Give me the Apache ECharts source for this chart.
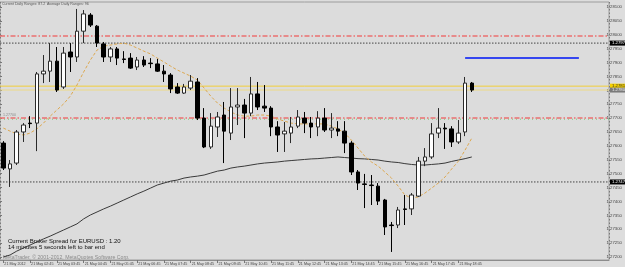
<!DOCTYPE html>
<html>
<head>
<meta charset="utf-8">
<script src="https://cdn.jsdelivr.net/npm/echarts@6/dist/echarts.min.js"></script>
<style>html,body{margin:0;padding:0;background:#dcdcdc;}#c{width:625px;height:267px;}</style>
</head>
<body>
<div id="c"></div>
<script>
// ---- data (EURUSD M15, 21 May 2012) ----
const tickLabels = ["21 May 2012","21 May 02:45","21 May 03:45","21 May 04:45","21 May 05:45","21 May 06:45","21 May 07:45","21 May 08:45","21 May 09:45","21 May 10:45","21 May 11:45","21 May 12:45","21 May 13:45","21 May 14:45","21 May 15:45","21 May 16:45","21 May 17:45","21 May 18:45"];
const totalSlots = 91; // 71 bars + chart shift space
const opens = [1.27610,1.27517,1.27538,1.27650,1.27682,1.27682,1.27859,1.27869,1.27905,1.27812,1.27938,1.27920,1.28013,1.28071,1.28031,1.27967,1.27920,1.27949,1.27913,1.27916,1.27884,1.27909,1.27898,1.27895,1.27869,1.27855,1.27812,1.27790,1.27808,1.27830,1.27700,1.27596,1.27668,1.27711,1.27646,1.27740,1.27747,1.27718,1.27787,1.27743,1.27736,1.27668,1.27643,1.27646,1.27671,1.27700,1.27682,1.27668,1.27700,1.27657,1.27661,1.27653,1.27610,1.27506,1.27463,1.27459,1.27455,1.27405,1.27315,1.27315,1.27373,1.27373,1.27419,1.27545,1.27560,1.27646,1.27664,1.27661,1.27614,1.27650,1.27826];
const closes = [1.27520,1.27535,1.27650,1.27675,1.27680,1.27859,1.27869,1.27905,1.27801,1.27934,1.27920,1.28013,1.28075,1.28035,1.27970,1.27920,1.27949,1.27916,1.27911,1.27880,1.27909,1.27891,1.27896,1.27869,1.27859,1.27805,1.27790,1.27812,1.27833,1.27700,1.27596,1.27671,1.27704,1.27653,1.27740,1.27747,1.27718,1.27787,1.27740,1.27736,1.27668,1.27639,1.27653,1.27668,1.27704,1.27682,1.27668,1.27700,1.27657,1.27664,1.27653,1.27610,1.27506,1.27466,1.27461,1.27457,1.27401,1.27308,1.27313,1.27369,1.27371,1.27423,1.27545,1.27560,1.27643,1.27664,1.27661,1.27614,1.27646,1.27826,1.27801];
const lows = [1.27513,1.27452,1.27531,1.27614,1.27664,1.27581,1.27826,1.27830,1.27794,1.27805,1.27866,1.27902,1.27970,1.28028,1.27956,1.27902,1.27902,1.27891,1.27898,1.27877,1.27873,1.27884,1.27880,1.27866,1.27830,1.27790,1.27787,1.27787,1.27801,1.27693,1.27592,1.27589,1.27632,1.27538,1.27621,1.27675,1.27628,1.27707,1.27729,1.27722,1.27635,1.27578,1.27578,1.27610,1.27664,1.27646,1.27628,1.27635,1.27650,1.27628,1.27635,1.27574,1.27495,1.27441,1.27376,1.27387,1.27387,1.27279,1.27218,1.27304,1.27315,1.27351,1.27416,1.27527,1.27553,1.27628,1.27589,1.27596,1.27607,1.27635,1.27794];
const highs = [1.27617,1.27549,1.27657,1.27682,1.27707,1.27866,1.27927,1.27970,1.27956,1.27956,1.27970,1.28093,1.28089,1.28078,1.28035,1.27974,1.27956,1.27956,1.27941,1.27934,1.27920,1.27923,1.27916,1.27913,1.27891,1.27862,1.27826,1.27823,1.27855,1.27844,1.27736,1.27718,1.27722,1.27758,1.27808,1.27808,1.27769,1.27848,1.27830,1.27819,1.27743,1.27689,1.27686,1.27704,1.27729,1.27722,1.27704,1.27725,1.27736,1.27718,1.27689,1.27689,1.27617,1.27513,1.27499,1.27495,1.27466,1.27409,1.27326,1.27380,1.27423,1.27430,1.27560,1.27592,1.27682,1.27736,1.27682,1.27671,1.27693,1.27848,1.27830];
const maFast = [1.27664,1.27653,1.27643,1.27639,1.27646,1.27661,1.27682,1.27707,1.27729,1.27751,1.27779,1.27819,1.27866,1.27909,1.27945,1.27959,1.27963,1.27967,1.27970,1.27963,1.27952,1.27941,1.27931,1.27916,1.27902,1.27887,1.27873,1.27862,1.27851,1.27837,1.27808,1.27779,1.27754,1.27736,1.27722,1.27711,1.27707,1.27707,1.27711,1.27711,1.27707,1.27697,1.27689,1.27682,1.27679,1.27679,1.27679,1.27679,1.27679,1.27671,1.27661,1.27646,1.27621,1.27592,1.27563,1.27542,1.27527,1.27506,1.27484,1.27455,1.27423,1.27412,1.27416,1.27430,1.27448,1.27466,1.27488,1.27517,1.27545,1.27585,1.27628];
const maSlow = [1.27200,1.27207,1.27221,1.27232,1.27243,1.27254,1.27265,1.27275,1.27286,1.27297,1.27308,1.27319,1.27337,1.27351,1.27362,1.27373,1.27383,1.27394,1.27405,1.27416,1.27427,1.27437,1.27448,1.27459,1.27466,1.27473,1.27477,1.27484,1.27488,1.27491,1.27495,1.27502,1.27509,1.27513,1.27520,1.27524,1.27527,1.27531,1.27535,1.27538,1.27540,1.27542,1.27545,1.27547,1.27549,1.27551,1.27553,1.27554,1.27556,1.27558,1.27560,1.27558,1.27556,1.27554,1.27553,1.27551,1.27549,1.27545,1.27542,1.27540,1.27536,1.27533,1.27531,1.27531,1.27533,1.27535,1.27538,1.27544,1.27549,1.27554,1.27560];
const redLevels = [1.27996, 1.27700];
const greenLevel = 1.27696;
const blackLevels = [1.27970, 1.27470];
const yellowLevel = 1.27815;
const bidLevel = 1.27801;
const blueLevel = 1.27916, blueStart = 69, blueEnd = 86;
const shiftBoundary = 90; // chart-shift separator sits at the start of this slot
const axisMin = 1.27189, axisMax = 1.28118;
const labelMin = 1.2720, labelMax = 1.2810, labelStep = 0.0005;

// ---- build ----
const categories = [];
for (let i = 0; i < totalSlots; i++) categories.push('b' + i);
const candles = opens.map((o, i) => [o, closes[i], lows[i], highs[i]]);
const FONT = 'Liberation Sans';
const tickShow = i => i % 4 === 0 && i / 4 < tickLabels.length;
const fmt5 = v => Number(v).toFixed(5);

const chart = echarts.init(document.getElementById('c'), null, {renderer: 'canvas'});
// full-width horizontal level drawn on a hidden 0..1 x axis of the main grid
const hLine = (val, color, type, width, bg, fg) => ({
  type: 'line', xAxisIndex: 2, yAxisIndex: 0, symbol: 'none', silent: true, z: 1,
  data: [[0, val], [1, val]],
  lineStyle: {color: color, width: width, type: type},
  endLabel: bg ? {show: true, distance: 1, formatter: () => fmt5(val), backgroundColor: bg, color: fg,
    fontSize: 4.3, fontFamily: FONT, padding: [1, 3, 0, 2]} : {show: false}
});

chart.setOption({
  animation: false,
  backgroundColor: '#dddddd',
  grid: [
    {left: 0, right: 16, top: 2, height: 258, show: true, backgroundColor: '#dcdcdc', borderColor: '#9c9c9c', borderWidth: 1},
    {left: 0, right: 16, top: 7, height: 250, show: false}
  ],
  xAxis: [
    {type: 'category', gridIndex: 0, data: categories, boundaryGap: true,
     axisLine: {show: true, lineStyle: {color: '#8c8c8c'}},
     axisTick: {show: true, interval: tickShow, alignWithLabel: true, length: 3, lineStyle: {color: '#777'}},
     axisLabel: {show: true, interval: tickShow, formatter: (v, i) => tickLabels[i / 4] || '', align: 'left',
       fontSize: 3.7, fontFamily: FONT, color: '#444', margin: 2, padding: [0, 0, 0, 1]},
     splitLine: {show: true, interval: i => i === shiftBoundary, lineStyle: {color: '#7a7a7a', width: 1, type: [1.5, 2]}}},
    {type: 'value', gridIndex: 1, min: 0, max: 1, show: false},
    {type: 'value', gridIndex: 0, min: 0, max: 1, show: false}
  ],
  yAxis: [
    {type: 'value', gridIndex: 0, min: axisMin, max: axisMax, position: 'right', show: true,
     axisLine: {show: false}, axisTick: {show: false}, axisLabel: {show: false}, splitLine: {show: false}},
    {type: 'value', gridIndex: 1, min: labelMin, max: labelMax, interval: labelStep, position: 'right',
     axisLine: {show: false}, axisTick: {show: true, length: 2, inside: false, lineStyle: {color: '#777'}},
     axisLabel: {show: true, formatter: v => v.toFixed(5), fontSize: 4.3, fontFamily: FONT, color: '#444', margin: 4,
       showMinLabel: true, showMaxLabel: true},
     splitLine: {show: false}}
  ],
  series: [
    hLine(redLevels[0], '#ea7070', [5, 2, 1.5, 2], 1.5),
    hLine(greenLevel, '#7acc7a', [1, 3], 1),
    hLine(redLevels[1], '#ea7070', [5, 2, 1.5, 2], 1.5),
    hLine(blackLevels[0], '#444', [1.5, 1.5], 1, '#000', '#fff'),
    hLine(blackLevels[1], '#444', [1.5, 1.5], 1, '#000', '#fff'),
    hLine(yellowLevel, '#f2cf3a', 'solid', 1, '#f5d000', '#333'),
    hLine(bidLevel, '#ecd987', 'solid', 1, '#7a7a7a', '#eee'),
    {type: 'line', xAxisIndex: 0, yAxisIndex: 0, data: maSlow, symbol: 'none', silent: true,
     lineStyle: {color: '#3a3a3a', width: 1}, z: 2},
    {type: 'line', xAxisIndex: 0, yAxisIndex: 0, data: maFast, symbol: 'none', silent: true,
     lineStyle: {color: '#dca850', width: 1, type: [3, 2]}, z: 2},
    {type: 'candlestick', xAxisIndex: 0, yAxisIndex: 0, data: candles, barWidth: 4, z: 3,
     itemStyle: {color: '#ffffff', color0: '#000000', borderColor: '#2a2a2a', borderColor0: '#000000', borderWidth: 1}},
    {type: 'line', xAxisIndex: 0, yAxisIndex: 0, data: [[blueStart, blueLevel], [blueEnd, blueLevel]], symbol: 'none',
     silent: true, lineStyle: {color: '#3546f0', width: 2}, z: 4},
    {type: 'line', xAxisIndex: 1, yAxisIndex: 1, data: [], symbol: 'none'}
  ],
  graphic: [
    {type: 'text', left: 2, top: 1.5, silent: true, style: {text: 'Current Daily Ranges: 87.2', fontSize: 3.6, fontFamily: FONT, fill: '#555'}},
    {type: 'text', left: 47, top: 1.5, silent: true, style: {text: 'Average Daily Ranges: 96', fontSize: 3.6, fontFamily: FONT, fill: '#555'}},
    {type: 'text', left: 3, top: 112.5, silent: true, style: {text: '1.27700', fontSize: 3.6, fontFamily: FONT, fill: '#8a8a8a'}},
    {type: 'text', left: 8, top: 238.5, silent: true, style: {text: 'Current Broker Spread for EURUSD : 1.20', fontSize: 6, fontFamily: FONT, fill: '#111'}},
    {type: 'text', left: 8, top: 244.5, silent: true, style: {text: '14 minutes 5 seconds left to bar end', fontSize: 6, fontFamily: FONT, fill: '#111'}},
    {type: 'text', left: 3, top: 255, silent: true, style: {text: 'MetaTrader, \u00a9 2001-2012, MetaQuotes Software Corp.', fontSize: 5.2, fontFamily: FONT, fill: '#8a8a8a'}}
  ]
});
</script>
</body>
</html>
